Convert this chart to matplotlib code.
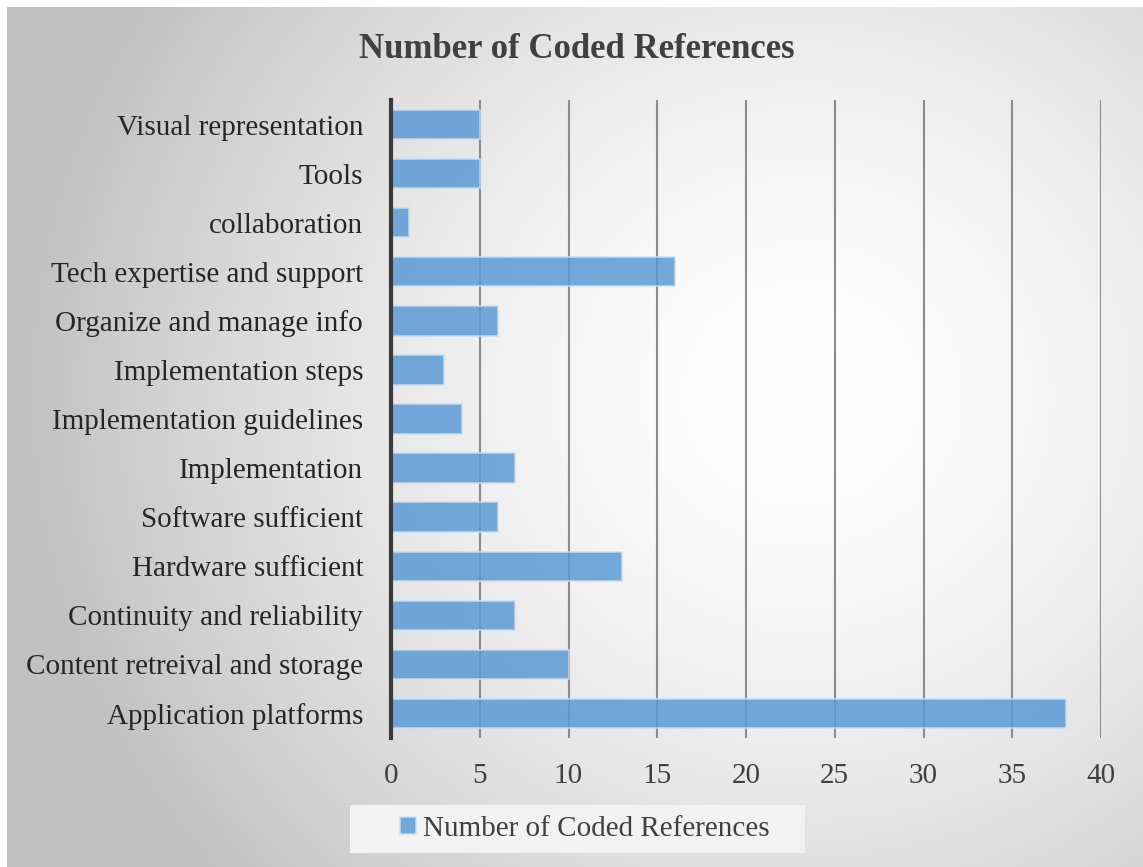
import numpy as np
import matplotlib.pyplot as plt
from matplotlib.patches import Rectangle

# categories bottom -> top, as drawn on the chart
categories = ["Application platforms", "Content retreival and storage",
              "Continuity and reliability", "Hardware sufficient",
              "Software sufficient", "Implementation",
              "Implementation guidelines", "Implementation steps",
              "Organize and manage info", "Tech expertise and support",
              "collaboration", "Tools", "Visual representation"]
counts = [38, 10, 7, 13, 6, 7, 4, 3, 6, 16, 1, 5, 5]
xticks = [0, 5, 10, 15, 20, 25, 30, 35, 40]

plt.rcParams['font.family'] = ['Liberation Serif', 'DejaVu Serif']

fig = plt.figure(figsize=(11.43, 8.67), dpi=100)
fig.patch.set_facecolor('white')

# radial gradient background
bg = fig.add_axes([7 / 1143, 0, 1 - 7 / 1143, 1 - 7 / 867], zorder=-10)
W, H = 400, 300
xx, yy = np.meshgrid(np.linspace(0, 1, W), np.linspace(1, 0, H))
r = np.sqrt(((xx - 0.70) * 1.25) ** 2 + ((yy - 0.55) * 1.0) ** 2)
r = np.clip(r / 0.85, 0, 1)
shade = 1.0 - 0.24 * r ** 1.6
bg.imshow(np.dstack([shade] * 3), aspect='auto', extent=[0, 1, 0, 1])
bg.axis('off')

ax = fig.add_axes([391 / 1143, 1 - 738 / 867, 710 / 1143, 638 / 867])
ax.patch.set_alpha(0)
ypos = np.arange(len(categories))
ax.barh(ypos, counts, height=0.6, color='#5b9bd5', alpha=0.85,
        edgecolor='#c9dcef', linewidth=1.2, zorder=3,
        label='Number of Coded References')

ax.set_xlim(0, 40)
ax.set_ylim(-0.5, len(categories) - 0.5)
ax.set_xticks(xticks)
ax.set_yticks(ypos)
ax.set_yticklabels(categories, fontsize=21, color='#262626')
ax.tick_params(axis='y', length=0, pad=20)
ax.tick_params(axis='x', length=0, pad=18, labelsize=21, labelcolor='#404040')
ax.grid(axis='x', color='#8c8c8c', linewidth=1.5, zorder=0)
for s in ['top', 'right', 'bottom']:
    ax.spines[s].set_visible(False)
ax.spines['left'].set_color('#3a3a3a')
ax.spines['left'].set_linewidth(3)
ax.spines['left'].set_zorder(4)

fig.text(577 / 1143, 1 - 50 / 867, 'Number of Coded References', ha='center',
         va='center', fontsize=25, fontweight='bold', color='#404040')

# legend box
fig.patches.append(Rectangle((350 / 1143, 1 - 853 / 867), 455 / 1143, 48 / 867,
                             transform=fig.transFigure, facecolor='#f2f2f2',
                             edgecolor='none', zorder=1))
h, l = ax.get_legend_handles_labels()
leg = fig.legend(h, l, loc='center', bbox_to_anchor=(585 / 1143, 1 - 829 / 867),
                 frameon=False, fontsize=21, handlelength=0.55, handleheight=0.55,
                 handletextpad=0.25)
for t in leg.get_texts():
    t.set_color('#404040')

plt.savefig('out.png', dpi=100)
